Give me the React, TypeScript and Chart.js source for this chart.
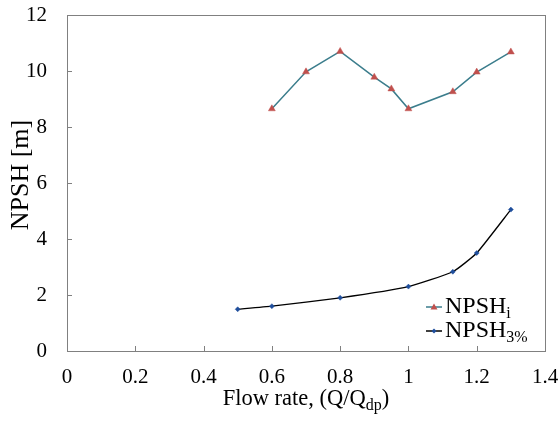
import React, { useEffect, useRef } from "react";
import { Chart, registerables } from "chart.js";

Chart.register(...registerables);

const flowI = [0.6, 0.7, 0.8, 0.9, 0.95, 1.0, 1.13, 1.2, 1.3];
const npshI = [8.65, 9.97, 10.7, 9.78, 9.36, 8.65, 9.26, 9.96, 10.68];
const flow3 = [0.5, 0.6, 0.8, 1.0, 1.13, 1.2, 1.3];
const npsh3 = [1.49, 1.6, 1.9, 2.3, 2.83, 3.5, 5.05];

const xTicks = [0, 0.2, 0.4, 0.6, 0.8, 1, 1.2, 1.4];
const yTicks = [0, 2, 4, 6, 8, 10, 12];

const SERIF = "'Liberation Serif', 'DejaVu Serif', serif";
const TEAL = "#3b7d8c";
const RED = "#c0504d";
const BLUE = "#1f4e9c";

function subText(ctx: CanvasRenderingContext2D, x: number, y: number, main: string, sub: string, after: string, size: number, subSize: number, subDrop: number) {
  ctx.font = `${size}px ${SERIF}`;
  ctx.fillText(main, x, y);
  let cx = x + ctx.measureText(main).width;
  ctx.font = `${subSize}px ${SERIF}`;
  ctx.fillText(sub, cx, y + subDrop);
  cx += ctx.measureText(sub).width;
  if (after) {
    ctx.font = `${size}px ${SERIF}`;
    ctx.fillText(after, cx, y);
  }
}

function measureSub(ctx: CanvasRenderingContext2D, main: string, sub: string, after: string, size: number, subSize: number) {
  ctx.font = `${size}px ${SERIF}`;
  let w = ctx.measureText(main).width + ctx.measureText(after).width;
  ctx.font = `${subSize}px ${SERIF}`;
  w += ctx.measureText(sub).width;
  return w;
}

const framePlugin = {
  id: "frame",
  beforeDatasetsDraw(chart: any) {
    const { ctx, chartArea: a, scales } = chart;
    ctx.save();
    ctx.strokeStyle = "#808080";
    ctx.lineWidth = 1;
    ctx.strokeRect(a.left + 0.5, a.top + 0.5, a.right - a.left, a.bottom - a.top);
    ctx.beginPath();
    for (const v of xTicks) {
      const px = Math.round(scales.x.getPixelForValue(v)) + 0.5;
      ctx.moveTo(px, a.bottom);
      ctx.lineTo(px, a.bottom - 5);
    }
    for (const v of yTicks) {
      const py = Math.round(scales.y.getPixelForValue(v)) + 0.5;
      ctx.moveTo(a.left, py);
      ctx.lineTo(a.left + 5, py);
    }
    ctx.stroke();
    ctx.restore();
  },
  afterDraw(chart: any) {
    const { ctx, chartArea: a } = chart;
    ctx.save();
    ctx.fillStyle = "#000";
    ctx.textBaseline = "alphabetic";
    ctx.textAlign = "left";
    // x title
    const xw = measureSub(ctx, "Flow rate, (Q/Q", "dp", ")", 22.5, 16);
    subText(ctx, (a.left + a.right) / 2 - xw / 2, 405, "Flow rate, (Q/Q", "dp", ")", 22.5, 16, 5);
    // y title
    ctx.translate(28, 175);
    ctx.rotate(-Math.PI / 2);
    ctx.font = `26px ${SERIF}`;
    ctx.textAlign = "center";
    ctx.fillText("NPSH [m]", 0, 0);
    ctx.restore();

    // legend
    ctx.save();
    ctx.fillStyle = "#000";
    ctx.textBaseline = "alphabetic";
    ctx.textAlign = "left";
    const rows = [
      { y: 307, line: TEAL, mark: RED, tri: true, sub: "i" },
      { y: 331, line: "#000", mark: BLUE, tri: false, sub: "3%" },
    ];
    for (const r of rows) {
      ctx.strokeStyle = r.line;
      ctx.lineWidth = 1.5;
      ctx.beginPath();
      ctx.moveTo(426, r.y);
      ctx.lineTo(442, r.y);
      ctx.stroke();
      ctx.fillStyle = r.mark;
      ctx.beginPath();
      if (r.tri) {
        ctx.moveTo(434, r.y - 3.5);
        ctx.lineTo(437.5, r.y + 2.5);
        ctx.lineTo(430.5, r.y + 2.5);
        ctx.closePath();
      } else {
        ctx.moveTo(434, r.y - 2.5);
        ctx.lineTo(436.5, r.y);
        ctx.lineTo(434, r.y + 2.5);
        ctx.lineTo(431.5, r.y);
        ctx.closePath();
      }
      ctx.fill();
      ctx.fillStyle = "#000";
      subText(ctx, 445, r.y + 6, "NPSH", r.sub, "", 24, 16, 5);
    }
    ctx.restore();
  },
};

export default function App() {
  const ref = useRef<HTMLCanvasElement | null>(null);
  useEffect(() => {
    document.body.style.margin = "0";
    if (!ref.current) return;
    const chart = new Chart(ref.current, {
      type: "scatter",
      data: {
        datasets: [
          {
            label: "NPSHi",
            data: flowI.map((x, i) => ({ x, y: npshI[i] })),
            showLine: true,
            borderColor: TEAL,
            borderWidth: 1.5,
            backgroundColor: RED,
            pointBackgroundColor: RED,
            pointBorderColor: "rgba(192,80,77,0.45)",
            pointBorderWidth: 1,
            pointStyle: "triangle",
            pointRadius: 4,
            tension: 0,
          },
          {
            label: "NPSH3%",
            data: flow3.map((x, i) => ({ x, y: npsh3[i] })),
            showLine: true,
            borderColor: "#000",
            borderWidth: 1.3,
            backgroundColor: BLUE,
            pointBackgroundColor: BLUE,
            pointBorderColor: BLUE,
            pointBorderWidth: 0.5,
            pointStyle: "rectRot",
            pointRadius: 2.5,
            tension: 0.15,
          },
        ],
      },
      options: {
        responsive: false,
        animation: false,
        devicePixelRatio: 1,
        layout: { padding: { top: 15, right: 15, left: 0, bottom: 0 } },
        plugins: { legend: { display: false }, tooltip: { enabled: false } },
        scales: {
          x: {
            type: "linear",
            min: 0,
            max: 1.4,
            afterFit: (s: any) => { s.height = 72; },
            afterBuildTicks: (s: any) => { s.ticks = xTicks.map((v) => ({ value: v })); },
            grid: { display: false, drawTicks: true, tickLength: 14 },
            border: { display: false },
            ticks: {
              padding: 0,
              color: "#000",
              font: { family: SERIF, size: 21 },
              maxRotation: 0,
              callback: (v: any) => String(Math.round(Number(v) * 10) / 10),
            },
          },
          y: {
            type: "linear",
            min: 0,
            max: 12,
            afterFit: (s: any) => { s.width = 67; },
            afterBuildTicks: (s: any) => { s.ticks = yTicks.map((v) => ({ value: v })); },
            grid: { display: false, drawTicks: true, tickLength: 20 },
            border: { display: false },
            ticks: {
              padding: 0,
              color: "#000",
              font: { family: SERIF, size: 21 },
            },
          },
        },
      },
      plugins: [framePlugin],
    } as any);
    return () => chart.destroy();
  }, []);
  return (
    <div style={{ width: 560, height: 423 }}>
      <canvas ref={ref} width={560} height={423} />
    </div>
  );
}
